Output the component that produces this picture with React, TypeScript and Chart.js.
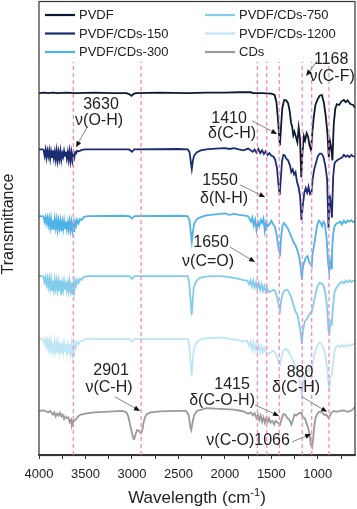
import React, { useEffect, useRef } from "react";
import { Chart, registerables } from "chart.js";

Chart.register(...registerables);

type Pt = [number, number];

// ---------- data ----------
const seriesNames = ["PVDF", "PVDF/CDs-150", "PVDF/CDs-300", "PVDF/CDs-750", "PVDF/CDs-1200", "CDs"];
const seriesColors = ["#0c1a30", "#1c2c72", "#4fb3ea", "#82cdee", "#bfe6f5", "#989c98"];
// vertical stacking offsets of each spectrum (a.u.)
const stackOffsets = [79.7, 67.3, 52.6, 39.4, 25.6, 9.7];

// relative transmittance (a.u.) vs wavenumber (cm-1)
const pvdf: Pt[] = [
  [4000, 0], [3950, 0.1], [3900, 0], [3850, 0.1], [3800, 0], [3700, 0.1], [3600, 0], [3400, 0.1], [3200, 0],
  [3060, 0], [3030, -0.2], [3005, -0.6], [2985, -0.2], [2960, 0], [2700, 0.1], [2400, 0], [2200, 0.1], [2000, 0.1],
  [1850, 0.2], [1720, 0.2], [1700, 0], [1600, 0], [1500, -0.1], [1465, -0.4], [1445, -2.0], [1428, -6.0],
  [1408, -11.5], [1396, -7.5], [1382, -3.2], [1362, -1.5], [1340, -1.6], [1320, -2.2], [1302, -4.0], [1288, -6.5],
  [1276, -7.4], [1264, -9.3], [1252, -8.5], [1236, -9.6], [1220, -10.8], [1206, -7.6], [1192, -10.0], [1178, -18.5],
  [1165, -13.0], [1150, -9.5], [1137, -10.4], [1120, -8.8], [1105, -9.6], [1090, -11.4], [1072, -12.6], [1060, -8.8],
  [1045, -5.5], [1026, -2.6], [1002, -1.3], [978, -0.5], [956, -0.4], [936, -2.0], [915, -5.0], [896, -9.0],
  [882, -14.1], [870, -10.5], [856, -12.0], [843, -14.8], [829, -7.0], [813, -3.5], [795, -2.4], [770, -2.6],
  [745, -1.8], [720, -1.5], [700, -2.0], [680, -1.6], [650, -2.4], [620, -2.6], [600, -3.2],
];

const cds150: Pt[] = [
  [4000, 0], [3960, 0], [3950, -0.2], [3940, -1.4], [3930, -0.1], [3920, -1.8], [3910, -0.3], [3900, -1.5],
  [3890, -0.2], [3880, -2.0], [3870, -0.4], [3860, -1.7], [3850, -0.2], [3840, -1.9], [3830, -0.5], [3820, -2.2],
  [3810, -0.3], [3800, -2.4], [3790, -0.6], [3780, -2.1], [3770, -0.4], [3760, -2.3], [3750, -0.8], [3740, -1.6],
  [3730, -0.3], [3720, -1.4], [3710, -0.5], [3700, -2.0], [3690, -0.6], [3680, -2.3], [3670, -0.4], [3660, -2.5],
  [3650, -0.7], [3640, -2.4], [3630, -0.9], [3620, -1.8], [3610, -0.6], [3600, -0.8], [3590, -0.3], [3570, -0.4],
  [3540, -0.1], [3500, 0], [3100, 0], [3030, 0], [3000, -0.5], [2975, 0],
  [2500, 0.1], [2400, 0], [2380, -0.6], [2365, -3.0], [2356, -4.3], [2345, -2.5], [2330, -1.3], [2300, -0.6],
  [2260, -0.2], [2200, 0], [2100, 0.2], [2000, 0.3], [1950, 0.1], [1900, 0.3], [1850, 0], [1800, -0.2], [1750, 0.2],
  [1700, -0.5], [1680, 0], [1660, -0.7], [1640, 0.1], [1620, -0.8], [1600, -0.2], [1580, -1.0], [1560, -0.4],
  [1540, -1.2], [1520, -0.8], [1500, -1.4], [1480, -1.5], [1460, -2.2], [1440, -4.0], [1425, -7.5], [1410, -10.0],
  [1400, -7.0], [1385, -2.5], [1370, -1.2], [1355, -1.3], [1340, -2.0], [1320, -2.4], [1300, -3.5], [1285, -5.0],
  [1270, -4.4], [1255, -5.5], [1240, -5.0], [1225, -7.0], [1205, -8.5], [1190, -10.5], [1176, -15.5], [1160, -12.0],
  [1145, -9.5], [1130, -8.5], [1115, -9.5], [1100, -8.2], [1085, -9.8], [1068, -9.5], [1055, -6.5], [1040, -4.5],
  [1020, -3.0], [1000, -1.5], [980, -0.9], [960, -0.9], [940, -1.6], [920, -3.5], [900, -6.5], [885, -17.3],
  [872, -10.0], [860, -12.0], [848, -15.0], [835, -6.0], [820, -3.0], [800, -2.5], [780, -2.2], [760, -2.0],
  [740, -1.8], [720, -1.2], [700, -1.6], [680, -1.3], [660, -1.7], [640, -1.2], [620, -1.5], [600, -1.6],
];

const cds300: Pt[] = [
  [4000, 0], [3960, 0], [3950, -0.3], [3940, -1.2], [3930, -0.2], [3920, -1.5], [3910, -0.4], [3900, -1.9],
  [3890, -0.5], [3880, -2.4], [3870, -0.6], [3860, -2.8], [3850, -0.9], [3840, -2.9], [3830, -0.7], [3820, -2.5],
  [3810, -0.8], [3800, -2.9], [3790, -1.0], [3780, -2.6], [3770, -1.1], [3760, -3.3], [3750, -1.3], [3740, -2.8],
  [3730, -1.0], [3720, -2.6], [3710, -1.2], [3700, -2.9], [3690, -1.4], [3680, -2.9], [3670, -1.1], [3660, -3.0],
  [3650, -1.3], [3640, -3.2], [3630, -1.6], [3620, -3.5], [3610, -1.2], [3600, -2.0], [3590, -0.8], [3575, -1.6],
  [3560, -0.6], [3540, -0.9], [3520, -0.2], [3480, 0], [3100, 0.1], [3030, 0],
  [3000, -0.5], [2975, 0], [2500, 0.1], [2400, 0], [2380, -1.0], [2365, -4.0], [2356, -5.6], [2345, -3.5],
  [2330, -1.6], [2300, -0.6], [2260, -0.2], [2200, 0.2], [2100, 0.4], [2000, 0.6], [1950, 0.3], [1900, 0.5],
  [1850, 0.3], [1800, 0.2], [1750, 0], [1720, -1.2], [1705, -0.3], [1690, -2.0], [1675, -0.8], [1660, -3.0],
  [1645, -1.2], [1630, -2.2], [1615, -0.8], [1600, -1.5], [1585, -0.5], [1570, -3.3], [1555, -1.2], [1540, -2.2],
  [1520, -1.8], [1500, -1.0], [1480, -1.8], [1460, -2.4], [1440, -4.5], [1420, -7.5], [1406, -8.2], [1395, -4.5],
  [1380, -2.2], [1365, -1.5], [1345, -2.0], [1320, -2.8], [1300, -3.8], [1280, -4.8], [1260, -5.8], [1240, -6.4],
  [1220, -7.5], [1200, -9.0], [1185, -11.0], [1172, -14.0], [1160, -11.2], [1145, -10.0], [1130, -9.2], [1110, -8.8],
  [1095, -10.0], [1080, -10.5], [1066, -11.0], [1055, -8.0], [1040, -6.3], [1025, -4.4], [1010, -2.2], [990, -1.0],
  [970, -1.4], [955, -2.2], [940, -1.2], [925, -1.6], [905, -5.0], [888, -10.5], [877, -12.3], [868, -10.0],
  [858, -11.5], [848, -8.0], [835, -4.0], [820, -2.2], [800, -1.6], [780, -1.5], [760, -1.2], [740, -1.8],
  [720, -1.0], [700, -1.5], [680, -1.0], [660, -1.2], [640, -0.9], [620, -1.3], [600, -1.1],
];

const cds750: Pt[] = [
  [4000, 0], [3960, 0], [3950, -0.4], [3940, -1.3], [3930, -0.3], [3920, -1.8], [3910, -0.5], [3900, -2.2],
  [3890, -0.6], [3880, -2.6], [3870, -0.8], [3860, -3.1], [3850, -1.0], [3840, -2.9], [3830, -0.9], [3820, -2.7],
  [3810, -1.1], [3800, -3.0], [3790, -1.2], [3780, -3.3], [3770, -1.0], [3760, -4.2], [3750, -1.6], [3740, -3.0],
  [3730, -1.1], [3720, -2.8], [3710, -1.3], [3700, -3.1], [3690, -1.5], [3680, -3.2], [3670, -1.2], [3660, -3.1],
  [3650, -1.4], [3640, -4.2], [3630, -1.7], [3620, -3.3], [3610, -1.1], [3600, -2.0], [3590, -0.8], [3575, -1.5],
  [3560, -0.6], [3540, -0.8], [3520, -0.2], [3480, 0], [3100, 0], [3030, 0],
  [3000, -0.6], [2975, 0], [2500, 0], [2400, 0], [2385, -1.2], [2370, -5.0], [2358, -8.6], [2348, -6.0],
  [2335, -2.5], [2310, -1.2], [2280, -0.5], [2240, -0.2], [2150, 0], [2050, 0], [1950, -0.2], [1850, -0.6],
  [1800, -0.9], [1760, -1.0], [1740, -1.8], [1725, -0.9], [1710, -2.2], [1695, -1.0], [1680, -2.5], [1665, -1.4],
  [1650, -2.8], [1635, -1.6], [1620, -3.0], [1605, -1.8], [1590, -3.2], [1575, -2.2], [1560, -3.4], [1545, -2.6],
  [1530, -3.5], [1513, -3.4], [1495, -3.2], [1480, -3.0], [1460, -3.2], [1440, -4.5], [1420, -6.5], [1406, -7.5],
  [1395, -5.5], [1380, -4.0], [1360, -3.2], [1340, -3.0], [1320, -3.2], [1300, -4.0], [1280, -5.0], [1260, -6.5],
  [1240, -7.8], [1220, -8.5], [1200, -10.5], [1185, -12.5], [1172, -15.0], [1160, -12.0], [1140, -10.0],
  [1120, -9.5], [1100, -8.8], [1080, -8.0], [1066, -7.8], [1050, -6.5], [1035, -5.0], [1020, -3.5], [1000, -2.0],
  [980, -1.5], [960, -1.6], [940, -2.0], [920, -3.5], [900, -7.0], [885, -12.0], [875, -12.5], [865, -10.0],
  [850, -10.5], [838, -7.0], [820, -3.5], [800, -2.6], [780, -2.0], [760, -1.5], [740, -1.2], [720, -1.6],
  [700, -1.0], [680, -1.4], [660, -0.9], [640, -1.3], [620, -1.0], [600, -1.0],
];

const cds1200: Pt[] = [
  [4000, 0], [3960, 0], [3950, -0.3], [3940, -1.1], [3930, -0.2], [3920, -1.7], [3910, -0.5], [3900, -2.0],
  [3890, -0.6], [3880, -2.5], [3870, -0.7], [3860, -3.0], [3850, -0.9], [3840, -2.7], [3830, -0.8], [3820, -2.6],
  [3810, -1.0], [3800, -3.1], [3790, -1.1], [3780, -2.9], [3770, -1.0], [3760, -3.3], [3750, -1.4], [3740, -3.0],
  [3730, -1.0], [3720, -2.7], [3710, -1.2], [3700, -3.0], [3690, -1.4], [3680, -3.4], [3670, -1.2], [3660, -3.2],
  [3650, -1.3], [3640, -3.4], [3630, -1.5], [3620, -2.8], [3610, -1.0], [3600, -1.8], [3590, -0.7], [3575, -1.2],
  [3560, -0.5], [3540, -0.6], [3520, -0.2], [3480, 0], [3100, 0], [3030, 0],
  [3000, -0.6], [2975, 0], [2500, 0], [2400, 0], [2385, -1.2], [2370, -5.0], [2358, -8.2], [2348, -5.5],
  [2335, -2.4], [2310, -1.0], [2280, -0.4], [2240, 0], [2150, 0.2], [2050, 0.3], [1950, 0], [1850, -0.3],
  [1800, -0.6], [1760, -0.4], [1740, -1.6], [1725, -0.6], [1710, -2.3], [1695, -0.8], [1680, -2.6], [1665, -1.2],
  [1650, -2.8], [1635, -1.4], [1620, -3.0], [1605, -1.6], [1590, -2.9], [1575, -1.9], [1560, -3.0], [1540, -3.2],
  [1513, -3.1], [1495, -2.8], [1480, -2.6], [1460, -3.0], [1440, -4.0], [1420, -5.2], [1406, -5.7], [1395, -4.4],
  [1380, -3.0], [1360, -2.4], [1340, -2.2], [1320, -2.6], [1300, -3.6], [1280, -4.2], [1260, -5.2], [1240, -6.0],
  [1220, -7.0], [1200, -8.5], [1185, -10.5], [1172, -12.8], [1160, -10.5], [1140, -8.5], [1120, -7.4],
  [1100, -6.8], [1080, -6.4], [1066, -6.2], [1050, -5.0], [1035, -3.5], [1020, -2.4], [1000, -1.2], [980, -0.8],
  [960, -1.2], [940, -1.9], [920, -3.2], [900, -6.5], [885, -10.0], [875, -11.0], [865, -8.5], [850, -8.0],
  [838, -5.5], [820, -2.8], [800, -1.7], [780, -1.5], [760, -1.8], [740, -1.3], [720, -1.8], [700, -1.4],
  [680, -1.7], [660, -1.2], [640, -1.5], [620, -1.2], [600, -1.0],
];

const cdsOnly: Pt[] = [
  [4000, 0], [3950, 0.1], [3900, -0.3], [3880, 0], [3850, -0.8], [3835, -0.3], [3820, -1.2], [3805, -0.6],
  [3790, -1.0], [3775, -0.4], [3760, -1.2], [3745, -0.8], [3730, -1.8], [3715, -1.2], [3700, -1.6], [3685, -1.4],
  [3670, -2.5], [3655, -1.9], [3645, -3.2], [3635, -2.6], [3620, -2.2], [3600, -1.8], [3580, -1.2], [3550, -0.8],
  [3500, -0.6], [3450, -0.4], [3400, -0.3], [3300, -0.2], [3200, -0.1], [3100, 0], [3060, -0.3], [3040, -1.2],
  [3020, -3.0], [3000, -4.8], [2985, -6.1], [2975, -6.2], [2960, -5.0], [2945, -4.2], [2930, -4.3], [2915, -4.7],
  [2900, -4.9], [2890, -4.4], [2875, -2.6], [2860, -1.4], [2840, -0.7], [2800, -0.3], [2700, -0.1], [2500, 0],
  [2420, 0], [2390, -0.8], [2372, -3.5], [2362, -4.2], [2355, -4.2], [2345, -2.2], [2330, -0.9], [2300, 0],
  [2200, 0.6], [2100, 0.5], [2000, 0.4], [1900, 0.3], [1850, 0.1], [1800, -0.1], [1750, -0.6], [1720, -0.3],
  [1700, -1.0], [1680, -0.5], [1660, -1.6], [1645, -0.8], [1630, -2.0], [1615, -1.0], [1600, -2.4], [1585, -1.4],
  [1570, -2.6], [1555, -1.5], [1540, -2.4], [1525, -1.6], [1510, -2.6], [1490, -2.2], [1470, -3.0], [1455, -2.2],
  [1440, -2.4], [1420, -2.8], [1406, -3.0], [1390, -1.8], [1370, -0.7], [1350, -0.8], [1330, -1.5], [1305, -2.0],
  [1285, -3.0], [1268, -2.0], [1250, -0.8], [1230, -1.0], [1210, -0.6], [1190, -0.4], [1175, -0.6], [1160, -1.4],
  [1140, -1.6], [1120, -2.8], [1100, -4.0], [1088, -5.5], [1075, -7.5], [1062, -8.0], [1050, -6.0], [1040, -3.8],
  [1025, -1.6], [1010, -0.8], [990, -0.2], [970, -0.2], [950, -0.4], [930, -0.9], [910, -0.8], [895, -1.2],
  [880, -1.6], [870, -1.0], [855, -0.4], [830, 0], [800, -0.2], [760, 0], [720, 0.1], [680, -0.2], [650, 0],
  [620, 0.4], [600, 0.9],
];

const spectra: Pt[][] = [pvdf, cds150, cds300, cds750, cds1200, cdsOnly];

// dashed reference lines (cm-1) and their upper end (a.u.)
const markerWavenumbers = [3630, 2901, 1650, 1550, 1415, 1168, 1066, 880];
const markerTop = 86.6;

// x axis ticks
const xTickValues = [4000, 3750, 3500, 3250, 3000, 2750, 2500, 2250, 2000, 1750, 1500, 1250, 1000, 750];
const xLabelValues = [4000, 3500, 3000, 2500, 2000, 1500, 1000];

// annotations: [text, wavenumber, a.u.]
const annotationTexts: [string, number, number][] = [
  ["1168", 857, 87.1], ["ν(C-F)", 846, 83.4],
  ["3630", 3333, 77.2], ["ν(O-H)", 3354, 73.6],
  ["1410", 1955, 74.2], ["δ(C-H)", 1923, 70.7],
  ["1550", 2052, 60.4], ["δ(N-H)", 2009, 56.5],
  ["1650", 2149, 46.7], ["ν(C=O)", 2181, 42.7],
  ["2901", 3225, 18.5], ["ν(C-H)", 3247, 14.8],
  ["1415", 1923, 15.6], ["δ(C-O-H)", 2030, 11.9],
  ["880", 1191, 18.1], ["δ(C-H)", 1234, 14.8],
  ["ν(C-O)1066", 1750, 3.1],
];
// arrows: [fromW, fromV, toW, toV]
const annotationArrows: [number, number, number, number][] = [
  [1008, 86.8, 1126, 83.5],
  [3483, 72.2, 3602, 67.8],
  [1707, 73.6, 1438, 70.7],
  [1836, 59.5, 1567, 56.8],
  [1944, 45.8, 1675, 42.5],
  [3182, 12.8, 2913, 9.7],
  [1675, 11.0, 1417, 8.6],
  [1169, 12.8, 900, 9.5],
  [1277, 2.9, 1072, 4.6],
];

const FONT = '"Liberation Sans", Arial, sans-serif';

const decorPlugin = {
  id: "decor",
  afterDatasetsDraw(chart: any) {
    const { ctx, scales } = chart;
    const xs = scales.x;
    const ys = scales.y;
    ctx.save();
    ctx.fillStyle = "#222";
    ctx.font = `16px ${FONT}`;
    ctx.textAlign = "center";
    ctx.textBaseline = "middle";
    for (const [t, w, v] of annotationTexts) {
      ctx.fillText(t, xs.getPixelForValue(w), ys.getPixelForValue(v));
    }
    for (const [fw, fv, tw, tv] of annotationArrows) {
      const x1 = xs.getPixelForValue(fw), y1 = ys.getPixelForValue(fv);
      const x2 = xs.getPixelForValue(tw), y2 = ys.getPixelForValue(tv);
      const a = Math.atan2(y2 - y1, x2 - x1);
      ctx.strokeStyle = "#7a7a7a";
      ctx.lineWidth = 0.9;
      ctx.beginPath();
      ctx.moveTo(x1, y1);
      ctx.lineTo(x2 - 3 * Math.cos(a), y2 - 3 * Math.sin(a));
      ctx.stroke();
      ctx.fillStyle = "#111";
      ctx.beginPath();
      ctx.moveTo(x2, y2);
      ctx.lineTo(x2 - 6 * Math.cos(a) + 2.5 * Math.sin(a), y2 - 6 * Math.sin(a) - 2.5 * Math.cos(a));
      ctx.lineTo(x2 - 6 * Math.cos(a) - 2.5 * Math.sin(a), y2 - 6 * Math.sin(a) + 2.5 * Math.cos(a));
      ctx.closePath();
      ctx.fill();
    }
    ctx.restore();
  },
  afterDraw(chart: any) {
    const { ctx, chartArea } = chart;
    ctx.save();
    ctx.strokeStyle = "#333";
    ctx.lineWidth = 1.2;
    ctx.strokeRect(chartArea.left, chartArea.top + 0.5, chartArea.right - chartArea.left, chartArea.bottom - chartArea.top);

    // legend (two columns)
    ctx.font = `13px ${FONT}`;
    ctx.textBaseline = "middle";
    ctx.textAlign = "left";
    seriesNames.forEach((name, i) => {
      const col = Math.floor(i / 3);
      const row = i % 3;
      const x0 = chartArea.left + 6 + col * 160;
      const y0 = chartArea.top + 14 + row * 18.5;
      ctx.strokeStyle = seriesColors[i];
      ctx.lineWidth = 2.2;
      ctx.beginPath();
      ctx.moveTo(x0, y0);
      ctx.lineTo(x0 + 30, y0);
      ctx.stroke();
      ctx.fillStyle = "#222";
      ctx.fillText(name, x0 + 34, y0 + 0.5);
    });

    // axis titles
    ctx.fillStyle = "#222";
    ctx.font = `16px ${FONT}`;
    ctx.textAlign = "center";
    ctx.textBaseline = "middle";
    ctx.save();
    ctx.translate(9, (chartArea.top + chartArea.bottom) / 2 - 4);
    ctx.rotate(-Math.PI / 2);
    ctx.fillText("Transmittance", 0, 0);
    ctx.restore();

    const main1 = "Wavelength (cm";
    const sup = "-1";
    const main2 = ")";
    ctx.textAlign = "left";
    ctx.textBaseline = "alphabetic";
    ctx.font = `17px ${FONT}`;
    const w1 = ctx.measureText(main1).width;
    const w3 = ctx.measureText(main2).width;
    ctx.font = `11px ${FONT}`;
    const w2 = ctx.measureText(sup).width;
    const cx = (chartArea.left + chartArea.right) / 2;
    let sx = cx - (w1 + w2 + w3) / 2;
    const base = chartArea.bottom + 48;
    ctx.font = `17px ${FONT}`;
    ctx.fillText(main1, sx, base);
    sx += w1;
    ctx.font = `11px ${FONT}`;
    ctx.fillText(sup, sx, base - 7);
    sx += w2;
    ctx.font = `17px ${FONT}`;
    ctx.fillText(main2, sx, base);
    ctx.restore();
  },
};

export default function App() {
  const ref = useRef<HTMLCanvasElement | null>(null);
  useEffect(() => {
    if (!ref.current) return;
    const datasets: any[] = spectra.map((s, i) => ({
      label: seriesNames[i],
      data: s.map(([w, t]) => ({ x: w, y: stackOffsets[i] + t })),
      borderColor: seriesColors[i],
      backgroundColor: seriesColors[i],
      borderWidth: 1.8,
      pointRadius: 0,
      tension: 0,
      fill: false,
      order: 1,
    }));
    markerWavenumbers.forEach((w) => {
      datasets.push({
        label: "marker",
        data: [{ x: w, y: 0 }, { x: w, y: markerTop }],
        borderColor: "#f78ac4",
        borderWidth: 1.3,
        borderDash: [4, 3],
        pointRadius: 0,
        fill: false,
        order: 0,
      });
    });
    const chart = new Chart(ref.current, {
      type: "line",
      data: { datasets },
      options: {
        responsive: false,
        animation: false,
        devicePixelRatio: 1,
        layout: { padding: { top: 1, right: 2, left: 0, bottom: 0 } },
        plugins: { legend: { display: false }, tooltip: { enabled: false } },
        scales: {
          x: {
            type: "linear",
            reverse: true,
            min: 600,
            max: 4000,
            afterBuildTicks: (s: any) => {
              s.ticks = xTickValues.map((v) => ({ value: v }));
            },
            afterFit: (s: any) => {
              s.height = 54;
            },
            ticks: {
              autoSkip: false,
              maxRotation: 0,
              padding: 8,
              color: "#222",
              font: { family: FONT, size: 13 },
              callback: (v: any) => (xLabelValues.includes(Number(v)) ? String(v) : ""),
            },
            grid: { drawOnChartArea: false, drawTicks: true, tickLength: 4, color: "#333", lineWidth: 1 },
            border: { display: true, color: "#333", width: 1.2 },
          },
          y: {
            type: "linear",
            min: 0,
            max: 100,
            afterFit: (s: any) => {
              s.width = 39;
            },
            ticks: { display: false },
            grid: { display: false },
            border: { display: false },
          },
        },
      } as any,
      plugins: [decorPlugin],
    });
    return () => chart.destroy();
  }, []);
  return (
    <div style={{ position: "fixed", left: 0, top: 0, width: 357, height: 509, background: "#fff" }}>
      <canvas ref={ref} width={357} height={509} style={{ display: "block" }} />
    </div>
  );
}
